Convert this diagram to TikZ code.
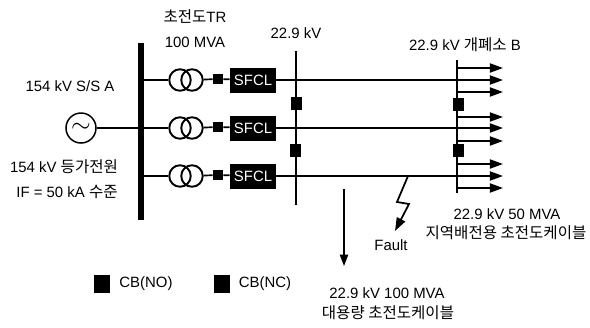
\documentclass[tikz,border=0pt]{standalone}
\usepackage{fontspec}
\setmainfont{Liberation Sans}
\newfontfamily\cjk[Scale=1.04]{Noto Sans CJK KR}
\usetikzlibrary{arrows.meta}
\tikzset{
  lbl/.style={font=\fontsize{8.5}{10}\selectfont,inner sep=0pt},
  wire/.style={line width=0.95pt},
  feeder/.style={line width=1pt,-{Triangle[length=7.5pt,width=5.2pt]}},
  coil/.style={draw,circle,line width=1.1pt,minimum size=0.43cm,inner sep=0pt},
  brk/.style={fill=black,minimum width=0.2cm,minimum height=0.2cm,inner sep=0pt},
  brkbus/.style={fill=black,minimum width=0.22cm,minimum height=0.26cm,inner sep=0pt},
  brkkey/.style={fill=black,minimum width=0.32cm,minimum height=0.36cm,inner sep=0pt},
  sfcl/.style={fill=black,text=white,minimum width=0.92cm,minimum height=0.5cm,inner sep=0pt,font=\fontsize{8.5}{10}\selectfont}
}
\begin{document}
\begin{tikzpicture}
      \useasboundingbox (0,0) rectangle (11.8,6.54);

      \coordinate (a0) at (2.82,5.68);
      \coordinate (a4) at (2.82,2.14);
      \coordinate (a1) at (2.82,4.94);
      \coordinate (a2) at (2.82,3.98);
      \coordinate (a3) at (2.82,3.02);

      \coordinate (b0) at (5.92,5.52);
      \coordinate (b4) at (5.92,2.44);
      \coordinate (b1) at (5.92,4.94);
      \coordinate (b2) at (5.92,3.98);
      \coordinate (b3) at (5.92,3.02);

      \coordinate (c0) at (9.14,5.34);
      \coordinate (c4) at (9.14,2.68);
      \coordinate (c1) at (9.14,4.94);
      \coordinate (c2) at (9.14,3.98);
      \coordinate (c3) at (9.14,3.02);

      \node[draw,circle,line width=0.85pt,minimum size=0.6cm,inner sep=0pt,font=\Large] (src) at (1.62,3.98) {$\sim$};

      \node[coil] (t1a) at (3.6,4.94) {};
      \node[coil] (t1b) at (3.84,4.94) {};
      \node[coil] (t2a) at (3.6,3.98) {};
      \node[coil] (t2b) at (3.84,3.98) {};
      \node[coil] (t3a) at (3.6,3.02) {};
      \node[coil] (t3b) at (3.84,3.02) {};

      \node[brk] (cb1) at (4.36,4.96) {};
      \node[brk] (cb2) at (4.36,4.0) {};
      \node[brk] (cb3) at (4.36,3.04) {};

      \node[sfcl] (fcl1) at (5.06,4.94) {SFCL};
      \node[sfcl] (fcl2) at (5.06,3.98) {SFCL};
      \node[sfcl] (fcl3) at (5.06,3.02) {SFCL};

      \draw[line width=3.4pt] (a0) -- (a4);
      \draw[wire] (b0) -- (b4);
      \draw[wire] (c0) -- (c4);

      \node[brkbus] (cbb1) at (5.92,4.48) {};
      \node[brkbus] (cbb2) at (5.9,3.54) {};
      \node[brkbus] (cbc1) at (9.16,4.46) {};
      \node[brkbus] (cbc2) at (9.16,3.54) {};

      \draw[wire] (src) -- (a2);
      \draw[wire] (a1) -- (t1a);
      \draw[wire] (a2) -- (t2a);
      \draw[wire] (a3) -- (t3a);
      \draw[wire] (t1b) -- (cb1);
      \draw[wire] (t2b) -- (cb2);
      \draw[wire] (t3b) -- (cb3);
      \draw[wire] (cb1) -- (fcl1);
      \draw[wire] (cb2) -- (fcl2);
      \draw[wire] (cb3) -- (fcl3);
      \draw[wire] (fcl1) -- (b1) -- (c1);
      \draw[wire] (fcl2) -- (b2) -- (c2);
      \draw[wire] (fcl3) -- (b3) -- (c3);

      \coordinate (d1) at (9.14,5.18);
      \coordinate (d2) at (9.14,4.7);
      \coordinate (d3) at (9.14,4.2);
      \coordinate (d4) at (9.14,3.72);
      \coordinate (d5) at (9.14,3.26);
      \coordinate (d6) at (9.14,2.78);

      \coordinate (e1) at (10.06,5.18);
      \coordinate (e2) at (10.06,4.94);
      \coordinate (e3) at (10.06,4.7);
      \coordinate (e4) at (10.06,4.2);
      \coordinate (e5) at (10.06,3.98);
      \coordinate (e6) at (10.06,3.72);
      \coordinate (e7) at (10.06,3.26);
      \coordinate (e8) at (10.06,3.02);
      \coordinate (e9) at (10.06,2.78);

      \draw[feeder] (d1) -- (e1);
      \draw[feeder] (c1) -- (e2);
      \draw[feeder] (d2) -- (e3);
      \draw[feeder] (d3) -- (e4);
      \draw[feeder] (c2) -- (e5);
      \draw[feeder] (d4) -- (e6);
      \draw[feeder] (d5) -- (e7);
      \draw[feeder] (c3) -- (e8);
      \draw[feeder] (d6) -- (e9);

      \coordinate (cab0) at (6.88,2.76);
      \coordinate (cab1) at (6.88,1.22);
      \draw[line width=0.7pt,-{Triangle[length=6.5pt,width=4.8pt]}] (cab0) -- (cab1);

      \coordinate (flt0) at (8.16,3.02);
      \coordinate (flt1) at (7.94,2.5);
      \coordinate (flt2) at (8.18,2.46);
      \coordinate (flt3) at (7.9,1.92);
      \draw[feeder] (flt0) -- (flt1) -- (flt2) -- (flt3);

      \node[lbl] (ttr) at (3.9,6.2) {{\cjk 초전도}TR};
      \node[lbl] (tmva) at (3.9,5.7) {100 MVA};
      \node[lbl] (bkv) at (5.92,5.88) {22.9 kV};
      \node[lbl] (ckv) at (9.3,5.64) {22.9 kV {\cjk 개폐소} B};
      \node[lbl] (ssa) at (1.4,4.82) {154 kV S/S A};
      \node[lbl] (eqv) at (1.28,3.2) {154 kV {\cjk 등가전원}};
      \node[lbl] (ifl) at (1.34,2.7) {IF = 50 kA {\cjk 수준}};
      \node[lbl] (dmva) at (10.14,2.26) {22.9 kV 50 MVA};
      \node[lbl] (dcab) at (10.12,1.88) {\cjk 지역배전용 초전도케이블};
      \node[lbl] (fault) at (7.82,1.64) {Fault};
      \node[lbl] (lmva) at (7.74,0.68) {22.9 kV 100 MVA};
      \node[lbl] (lcab) at (7.76,0.28) {\cjk 대용량 초전도케이블};

      \node[brkkey] (keyno) at (2.04,0.86) {};
      \node[brkkey] (keync) at (4.44,0.86) {};
      \node[lbl] (txtno) at (2.92,0.86) {CB(NO)};
      \node[lbl] (txtnc) at (5.3,0.86) {CB(NC)};
  \end{tikzpicture}
\end{document}
